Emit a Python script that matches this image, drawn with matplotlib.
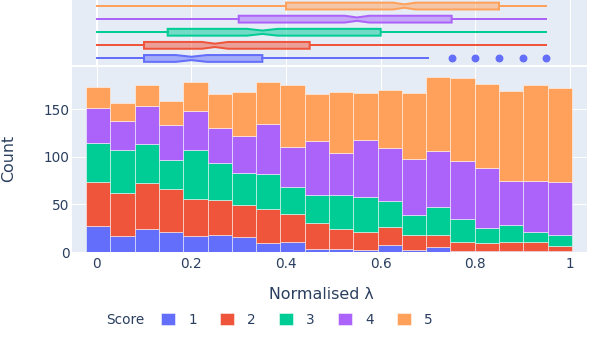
import matplotlib
matplotlib.use('Agg')
import matplotlib.pyplot as plt
from matplotlib.patches import Patch
import numpy as np

# scores and plotly default colours
scores = ['1', '2', '3', '4', '5']
colors = ['#636EFA', '#EF553B', '#00CC96', '#AB63FA', '#FFA15A']

# histogram counts per bin (20 bins) for each score
count_1 = [27, 17, 24, 21, 17, 18, 16, 9, 11, 3, 3, 2, 7, 2, 5, 1, 1, 1, 1, 1]
count_2 = [46, 45, 48, 45, 39, 37, 33, 36, 29, 27, 21, 19, 19, 16, 13, 10, 8, 9, 9, 5]
count_3 = [41, 45, 41, 31, 51, 39, 34, 37, 28, 30, 36, 37, 28, 21, 29, 24, 16, 18, 11, 12]
count_4 = [37, 31, 40, 36, 41, 36, 39, 52, 42, 57, 44, 60, 55, 59, 59, 61, 63, 47, 54, 56]
count_5 = [22, 19, 22, 26, 31, 36, 46, 45, 65, 49, 64, 49, 61, 69, 78, 87, 88, 94, 100, 98]
bin_edges = np.linspace(-0.0225, 1.004, 21)

# marginal box plot stats per score
box_lo = [0, 0, 0, 0, 0]
box_q1 = [0.10, 0.10, 0.15, 0.30, 0.40]
box_med = [0.20, 0.25, 0.35, 0.55, 0.65]
box_q3 = [0.35, 0.45, 0.60, 0.75, 0.85]
box_hi = [0.70, 0.95, 0.95, 0.95, 0.95]
fliers_1 = [0.75, 0.80, 0.85, 0.90, 0.95]

xticks = [0, 0.2, 0.4, 0.6, 0.8, 1]
xticklabels = ['0', '0.2', '0.4', '0.6', '0.8', '1']
yticks = [0, 50, 100, 150]

all_counts = [count_1, count_2, count_3, count_4, count_5]

W, H = 598, 357
txt = '#2a3f5f'
bg = '#E5ECF6'
px = 0.72  # points per pixel at dpi 100
plt.rcParams['font.family'] = ['DejaVu Sans']

fig = plt.figure(figsize=(W / 100, H / 100), dpi=100)
xl, xr = 72 / W, 586.5 / W
ax_box = fig.add_axes([xl, 1 - 65 / H, xr - xl, 65.5 / H])
ax = fig.add_axes([xl, 1 - 252 / H, xr - xl, (252 - 67.3) / H])
xlim = (-0.0522, 1.0349)

# stacked histogram
widths = np.diff(bin_edges)
bottom = np.zeros(20)
for c, col in zip(all_counts, colors):
    ax.bar(bin_edges[:-1], c, width=widths, bottom=bottom, align='edge',
           color=col, edgecolor=(1, 1, 1, 0.5), linewidth=0.7, zorder=3)
    bottom += np.array(c)

ax.set_facecolor(bg)
ax.set_xlim(xlim)
ax.set_ylim(0, 194)
ax.set_xticks(xticks)
ax.set_xticklabels(xticklabels)
ax.set_yticks(yticks)
ax.grid(True, color='white', linewidth=1 * px, zorder=0)
ax.set_axisbelow(True)
ax.tick_params(length=0, labelsize=9.8, colors=txt)
ax.tick_params(axis='x', pad=5 * px)
ax.tick_params(axis='y', pad=2.5 * px)
for s in ax.spines.values():
    s.set_visible(False)

# marginal notched box plots
for i, col in enumerate(colors):
    n = sum(all_counts[i])
    iqr = box_q3[i] - box_q1[i]
    ci = 1.8 * iqr / np.sqrt(n)
    st = dict(whislo=box_lo[i], q1=box_q1[i], med=box_med[i], q3=box_q3[i],
              whishi=box_hi[i], cilo=box_med[i] - ci, cihi=box_med[i] + ci,
              fliers=fliers_1 if i == 0 else [])
    ax_box.bxp([st], positions=[i], widths=0.52, orientation='horizontal',
               shownotches=True, showcaps=False, patch_artist=True,
               boxprops=dict(facecolor=matplotlib.colors.to_rgba(col, 0.5),
                             edgecolor=col, linewidth=2 * px),
               whiskerprops=dict(color=col, linewidth=2 * px),
               medianprops=dict(linewidth=0),
               flierprops=dict(marker='o', markerfacecolor=col,
                               markeredgecolor=col, markersize=6.5 * px))

ax_box.set_facecolor(bg)
ax_box.set_xlim(xlim)
ax_box.set_ylim(-0.5, 4.5)
ax_box.set_xticks(xticks)
ax_box.set_yticks([])
ax_box.set_xticklabels([])
ax_box.grid(True, axis='x', color='white', linewidth=1 * px, zorder=0)
ax_box.axvline(0, color='white', linewidth=2 * px, zorder=0.5)
ax_box.set_axisbelow(True)
ax_box.tick_params(length=0)
for s in ax_box.spines.values():
    s.set_visible(False)

# axis titles
fig.text(9 / W, 1 - 158.5 / H, 'Count', rotation=90, ha='center', va='center',
         fontsize=11.4, color=txt)
fig.text(321.7 / W, 1 - 294.3 / H, 'Normalised λ', ha='center', va='center',
         fontsize=11.4, color=txt)

# legend
fig.text(105.7 / W, 1 - 320 / H, 'Score', ha='left', va='center',
         fontsize=9.8, color=txt)
handles = [Patch(facecolor=col, edgecolor=(1, 1, 1, 0.5), linewidth=0.7) for col in colors]
fig.legend(handles, scores, loc='center left', bbox_to_anchor=(161 / W, 1 - 320 / H),
           ncol=5, frameon=False, fontsize=9.8, labelcolor=txt,
           handlelength=1.0, handleheight=1.0, handletextpad=1.0,
           columnspacing=1.7, borderpad=0, borderaxespad=0)

fig.savefig('out.png', dpi=100)
